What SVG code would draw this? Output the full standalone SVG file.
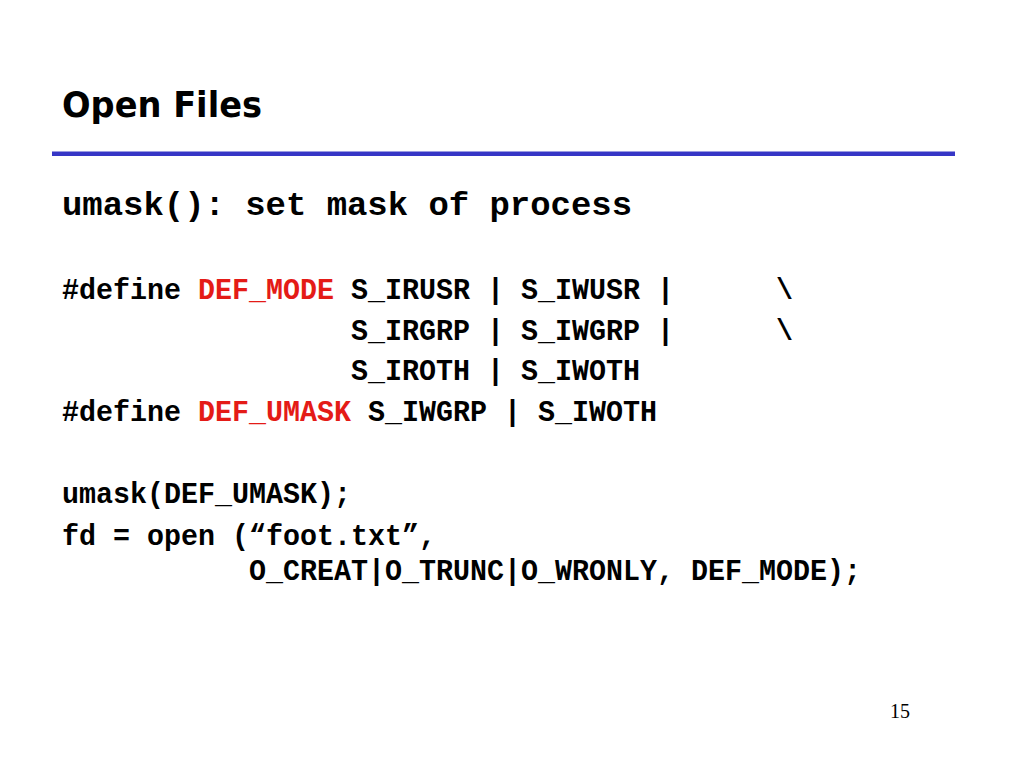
<svg xmlns="http://www.w3.org/2000/svg" width="1024" height="768" viewBox="0 0 1024 768">
<style>
.t{font-family:"DejaVu Sans","Liberation Sans",sans-serif;font-weight:bold;font-size:36px;fill:#000}
.c{font-family:"Liberation Mono","DejaVu Sans Mono",monospace;font-weight:bold;font-size:30px;fill:#000}
.h{font-family:"Liberation Mono","DejaVu Sans Mono",monospace;font-weight:bold;font-size:34px;fill:#000}
.r{fill:#e41b17}
.n{font-family:"Liberation Serif","Times New Roman",serif;font-size:20px;fill:#000}
</style>
<rect width="1024" height="768" fill="#fff"/>
<g id="title">
<text class="t" x="62" y="117" textLength="200" lengthAdjust="spacingAndGlyphs">Open Files</text>
<rect x="52" y="151.5" width="903" height="4.5" fill="#3636c6"/>
</g>
<g id="body">
<text class="h" x="62" y="215" textLength="570" lengthAdjust="spacingAndGlyphs" xml:space="preserve">umask(): set mask of process</text>
<text class="c" x="62" y="299" textLength="119" lengthAdjust="spacingAndGlyphs">#define</text>
<text class="c r" x="198" y="299" textLength="136" lengthAdjust="spacingAndGlyphs">DEF_MODE</text>
<text class="c" x="351" y="299" textLength="323" lengthAdjust="spacingAndGlyphs" xml:space="preserve">S_IRUSR | S_IWUSR |</text>
<text class="c" x="776" y="299" textLength="17" lengthAdjust="spacingAndGlyphs">\</text>
<text class="c" x="351" y="340" textLength="323" lengthAdjust="spacingAndGlyphs" xml:space="preserve">S_IRGRP | S_IWGRP |</text>
<text class="c" x="776" y="340" textLength="17" lengthAdjust="spacingAndGlyphs">\</text>
<text class="c" x="351" y="380" textLength="289" lengthAdjust="spacingAndGlyphs" xml:space="preserve">S_IROTH | S_IWOTH</text>
<text class="c" x="62" y="421" textLength="119" lengthAdjust="spacingAndGlyphs">#define</text>
<text class="c r" x="198" y="421" textLength="153" lengthAdjust="spacingAndGlyphs">DEF_UMASK</text>
<text class="c" x="368" y="421" textLength="289" lengthAdjust="spacingAndGlyphs" xml:space="preserve">S_IWGRP | S_IWOTH</text>
<text class="c" x="62" y="503" textLength="289" lengthAdjust="spacingAndGlyphs">umask(DEF_UMASK);</text>
<text class="c" x="62" y="545" textLength="374" lengthAdjust="spacingAndGlyphs" xml:space="preserve">fd = open (“foot.txt”,</text>
<text class="c" x="249" y="580" textLength="612" lengthAdjust="spacingAndGlyphs" xml:space="preserve">O_CREAT|O_TRUNC|O_WRONLY, DEF_MODE);</text>
</g>
<g id="page">
<text class="n" x="890" y="718">15</text>
</g>
</svg>
